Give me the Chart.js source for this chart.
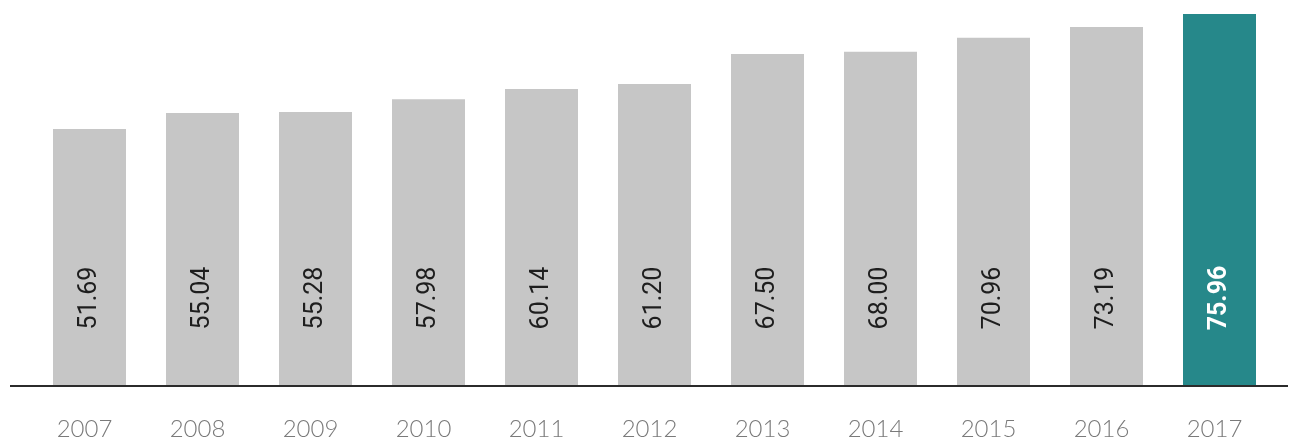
<!DOCTYPE html>
<html>
<head>
<meta charset="utf-8">
<script src="https://cdn.jsdelivr.net/npm/chart.js@4"></script>
<style>
    html, body { margin: 0; padding: 0; background: #fff; }
    #wrap { width: 1289px; height: 441px; }
</style>
</head>
<body>
<div id="wrap"><canvas id="chart"></canvas></div>
<script>
// Anos e valores de cada barra
const anos = ['2007', '2008', '2009', '2010', '2011', '2012', '2013', '2014', '2015', '2016', '2017'];
const valores = [51.69, 55.04, 55.28, 57.98, 60.14, 61.20, 67.50, 68.00, 70.96, 73.19, 75.96];

// Limites do eixo vertical (as barras partem do mínimo)
const yMin = -2.34;
const yMax = 75.96;

// Cores: cinza para os anos anteriores, destaque no último
const corBarra = '#c6c6c6';
const corDestaque = '#26888a';
const cores = valores.map((v, i) => i === valores.length - 1 ? corDestaque : corBarra);

// Linha de base que atravessa quase toda a largura
const linhaBase = {
    id: 'linhaBase',
    afterDatasetsDraw(chart) {
        const ctx = chart.ctx;
        const y = chart.chartArea.bottom;
        ctx.save();
        ctx.strokeStyle = '#2b2b2b';
        ctx.lineWidth = 2;
        ctx.beginPath();
        ctx.moveTo(10, y + 1);
        ctx.lineTo(chart.width - 1, y + 1);
        ctx.stroke();
        ctx.restore();
    }
};

// Rótulos de valor na vertical, dentro de cada barra
const rotulosValor = {
    id: 'rotulosValor',
    afterDatasetsDraw(chart) {
        const ctx = chart.ctx;
        const meta = chart.getDatasetMeta(0);
        meta.data.forEach((barra, i) => {
            const ultimo = i === valores.length - 1;
            ctx.save();
            ctx.translate(barra.x, barra.base - 87);
            ctx.rotate(-Math.PI / 2);
            ctx.textAlign = 'center';
            ctx.textBaseline = 'middle';
            ctx.font = (ultimo ? 'bold ' : '') + '25px Roboto';
            ctx.fillStyle = ultimo ? '#ffffff' : '#1e1e1e';
            ctx.fillText(valores[i].toFixed(2), 0, 0);
            ctx.restore();
        });
    }
};

new Chart(document.getElementById('chart'), {
    type: 'bar',
    data: {
        labels: anos,
        datasets: [{
            data: valores,
            base: yMin,
            backgroundColor: cores,
            borderWidth: 0,
            categoryPercentage: 1,
            barPercentage: 0.646
        }]
    },
    options: {
        responsive: true,
        maintainAspectRatio: false,
        animation: false,
        layout: { padding: { left: 33, right: 13, top: 14, bottom: 0 } },
        plugins: {
            legend: { display: false },
            tooltip: { enabled: false }
        },
        scales: {
            x: {
                grid: { display: false },
                border: { display: false },
                ticks: {
                    color: '#7a7a7a',
                    padding: 22,
                    labelOffset: -5,
                    font: { family: 'Lato', size: 24, weight: 300 }
                },
                afterFit(scale) { scale.height = 56; }
            },
            y: {
                display: false,
                min: yMin,
                max: yMax
            }
        }
    },
    plugins: [linhaBase, rotulosValor]
});
</script>
</body>
</html>
